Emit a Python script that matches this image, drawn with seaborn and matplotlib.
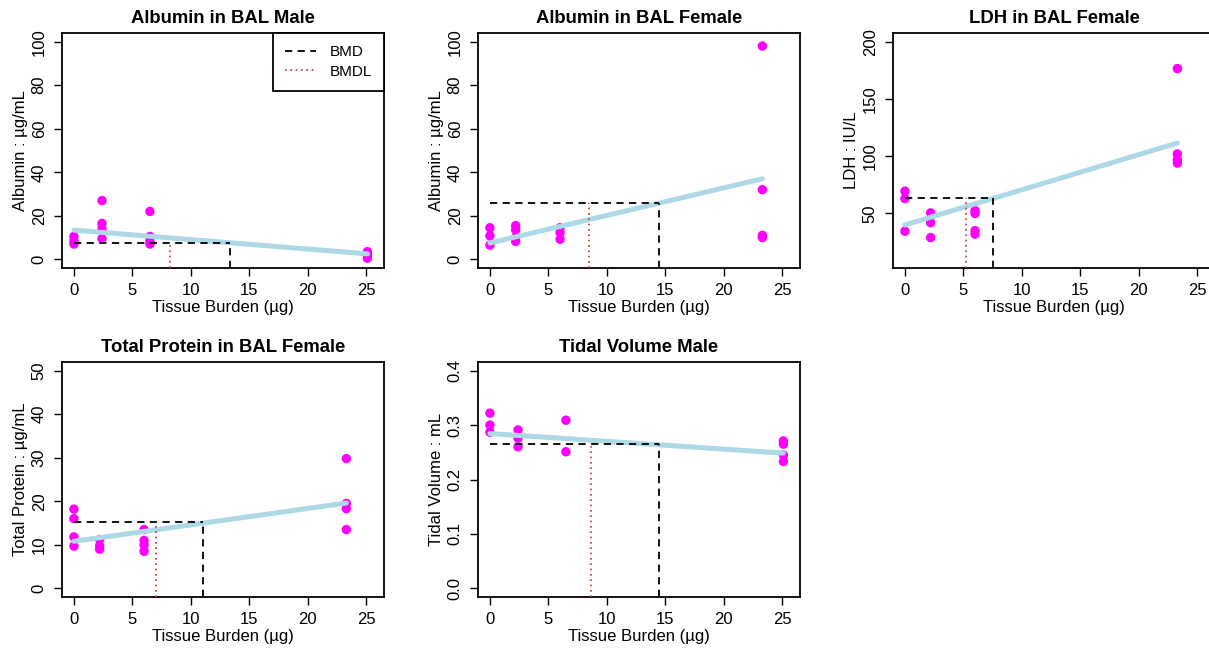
import matplotlib
matplotlib.use("Agg")
import matplotlib.pyplot as plt
import seaborn as sns
import pandas as pd
from matplotlib.lines import Line2D
from matplotlib.ticker import FormatStrFormatter

# ---------------- data ----------------
titles = ["Albumin in BAL Male", "Albumin in BAL Female", "LDH in BAL Female",
          "Total Protein in BAL Female", "Tidal Volume Male"]
ylabels = ["Albumin : µg/mL", "Albumin : µg/mL", "LDH : IU/L",
           "Total Protein : µg/mL", "Tidal Volume : mL"]
xlabel = "Tissue Burden (µg)"

alb_m_dose = [0, 0, 0, 2.4, 2.4, 2.4, 2.4, 6.5, 6.5, 6.5, 6.5, 25.1, 25.1, 25.1]
alb_m_resp = [7.0, 8.5, 10.5, 27.0, 16.5, 14.0, 9.5, 22.0, 10.5, 8.5, 7.0, 3.5, 2.0, 0.5]
alb_m_fit_x = [0, 25.1]
alb_m_fit_y = [13.4, 2.5]

alb_f_dose = [0, 0, 0, 2.2, 2.2, 2.2, 2.2, 6.0, 6.0, 6.0, 23.3, 23.3, 23.3, 23.3]
alb_f_resp = [14.5, 10.8, 6.5, 15.5, 13.5, 10.0, 8.2, 14.5, 12.3, 9.2, 98.0, 32.0, 11.0, 10.0]
alb_f_fit_x = [0, 23.3]
alb_f_fit_y = [7.5, 37.0]

ldh_f_dose = [0, 0, 0, 2.2, 2.2, 2.2, 6.0, 6.0, 6.0, 6.0, 23.3, 23.3, 23.3, 23.3]
ldh_f_resp = [69.5, 63.0, 34.5, 50.5, 42.0, 29.0, 52.5, 50.0, 35.0, 32.0, 176.5, 102.0, 97.0, 94.0]
ldh_f_fit_x = [0, 23.3]
ldh_f_fit_y = [40.0, 111.5]

tp_f_dose = [0, 0, 0, 0, 2.2, 2.2, 2.2, 6.0, 6.0, 6.0, 6.0, 23.3, 23.3, 23.3, 23.3]
tp_f_resp = [18.2, 16.0, 11.8, 9.7, 11.2, 9.8, 9.0, 13.5, 11.0, 10.0, 8.5, 29.8, 19.5, 18.3, 13.5]
tp_f_fit_x = [0, 23.3]
tp_f_fit_y = [10.8, 19.6]

tv_m_dose = [0, 0, 0, 2.4, 2.4, 2.4, 6.5, 6.5, 25.1, 25.1, 25.1, 25.1]
tv_m_resp = [0.322, 0.300, 0.287, 0.291, 0.276, 0.260, 0.309, 0.251, 0.271, 0.265, 0.245, 0.233]
tv_m_fit_x = [0, 25.1]
tv_m_fit_y = [0.2845, 0.2485]

bmd_values = [13.35, 14.5, 7.55, 11.08, 14.46]
bmdl_values = [8.24, 8.45, 5.19, 7.02, 8.65]
bmr_levels = [7.7, 25.8, 63.5, 15.2, 0.2645]

y_ranges = [(0, 100), (0, 100), (10, 200), (0, 50), (0, 0.4)]
y_ticks = [[0, 20, 40, 60, 80, 100], [0, 20, 40, 60, 80, 100], [50, 100, 150, 200],
           [0, 10, 20, 30, 40, 50], [0.0, 0.1, 0.2, 0.3, 0.4]]
x_range = (0, 25.5)
x_ticks = [0, 5, 10, 15, 20, 25]

doses = [alb_m_dose, alb_f_dose, ldh_f_dose, tp_f_dose, tv_m_dose]
resps = [alb_m_resp, alb_f_resp, ldh_f_resp, tp_f_resp, tv_m_resp]
fits_x = [alb_m_fit_x, alb_f_fit_x, ldh_f_fit_x, tp_f_fit_x, tv_m_fit_x]
fits_y = [alb_m_fit_y, alb_f_fit_y, ldh_f_fit_y, tp_f_fit_y, tv_m_fit_y]

# ---------------- style ----------------
sns.set_style("ticks")
plt.rcParams['font.family'] = ['Liberation Sans', 'DejaVu Sans']
plt.rcParams['text.color'] = 'black'
plt.rcParams['axes.labelcolor'] = 'black'
plt.rcParams['xtick.color'] = 'black'
plt.rcParams['ytick.color'] = 'black'

W, H = 1209, 651
fig = plt.figure(figsize=(W / 100, H / 100), dpi=100)
fig.patch.set_facecolor("white")

col_left = [62, 478, 893]
row_top = [33, 362]
aw, ah = 322, 235
grid = [(0, 0), (0, 1), (0, 2), (1, 0), (1, 1)]

bmd_ls = (0, (4, 3))
bmdl_ls = (0, (1, 2.2))
bmdl_color = "#D42A2A"


def expand(lo, hi, f=0.04):
    d = (hi - lo) * f
    return lo - d, hi + d


for i in range(5):
    r, c = grid[i]
    ax = fig.add_axes([col_left[c] / W, 1 - (row_top[r] + ah) / H, aw / W, ah / H])
    ax.set_facecolor("white")
    df = pd.DataFrame({"dose": doses[i], "resp": resps[i]})
    sns.scatterplot(data=df, x="dose", y="resp", ax=ax, color="#FF00FF", s=46,
                    edgecolor="none", linewidth=0, zorder=2, legend=False)
    fdf = pd.DataFrame({"dose": fits_x[i], "resp": fits_y[i]})
    sns.lineplot(data=fdf, x="dose", y="resp", ax=ax, color="#ADD8E6", lw=3.6,
                 zorder=3, legend=False)

    ylo, yhi = expand(*y_ranges[i])
    xlo, xhi = expand(*x_range)
    ax.set_xlim(xlo, xhi)
    ax.set_ylim(ylo, yhi)

    lvl = bmr_levels[i]
    floor = ylo
    ax.plot([0, bmd_values[i]], [lvl, lvl], color="black", ls=bmd_ls, lw=1.3, zorder=4)
    ax.plot([bmd_values[i], bmd_values[i]], [floor, lvl], color="black", ls=bmd_ls,
            lw=1.3, zorder=4)
    ax.plot([bmdl_values[i], bmdl_values[i]], [floor, lvl], color=bmdl_color,
            ls=bmdl_ls, lw=1.2, zorder=4)

    ax.set_xticks(x_ticks)
    ax.set_yticks(y_ticks[i])
    if i == 4:
        ax.yaxis.set_major_formatter(FormatStrFormatter("%.1f"))
    ax.tick_params(direction="out", length=6, width=1, labelsize=12, pad=5,
                   colors="black")
    ax.tick_params(axis="y", labelrotation=90)
    for lab in ax.get_yticklabels():
        lab.set_va("center")
    for sp in ax.spines.values():
        sp.set_visible(True)
        sp.set_color("black")
        sp.set_linewidth(1.3)

    ax.set_title(titles[i], fontsize=13.3, fontweight="bold", pad=7, color="black")
    ax.set_xlabel(xlabel, fontsize=12, labelpad=1.5, color="black")
    ax.set_ylabel(ylabels[i], fontsize=12, labelpad=3, color="black")

    if i == 0:
        handles = [Line2D([], [], color="black", ls=bmd_ls, lw=1.3, label="BMD"),
                   Line2D([], [], color=bmdl_color, ls=bmdl_ls, lw=1.2, label="BMDL")]
        leg = ax.legend(handles=handles, loc="upper right", borderaxespad=0,
                        frameon=True, fancybox=False, edgecolor="black",
                        fontsize=11, handlelength=2.0, handletextpad=0.9,
                        borderpad=0.8, labelspacing=0.35, framealpha=1)
        leg.get_frame().set_linewidth(1.3)
        for t in leg.get_texts():
            t.set_color("black")

fig.savefig("out.png", dpi=100, facecolor="white")
